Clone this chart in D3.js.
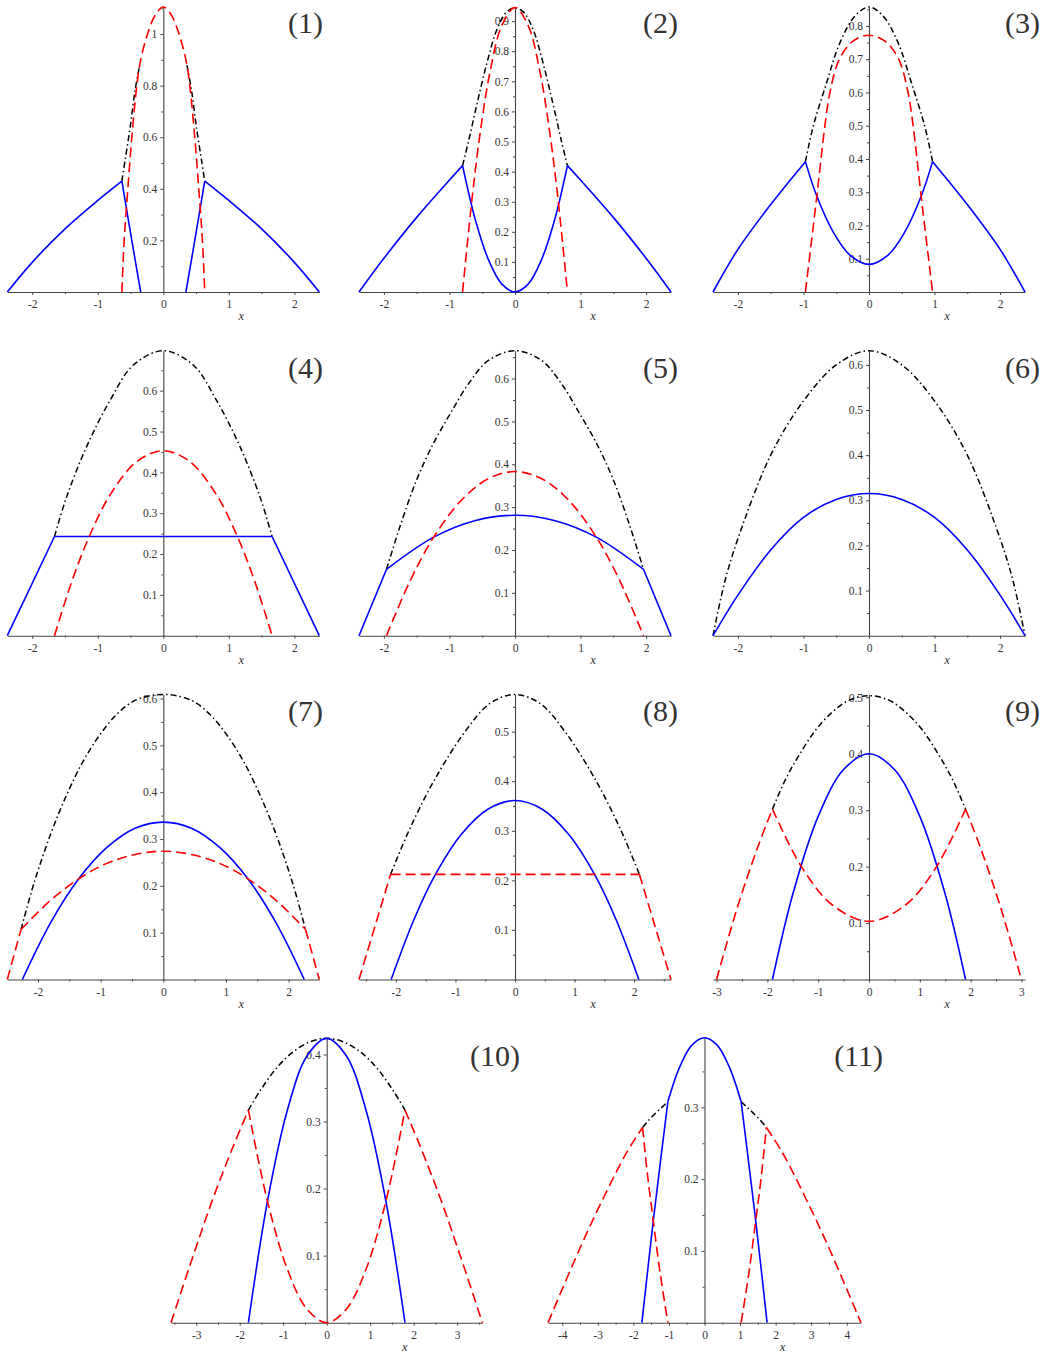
<!DOCTYPE html>
<html><head><meta charset="utf-8">
<script src="https://cdn.jsdelivr.net/npm/d3@7"></script>
<style>body{margin:0;background:#fff}svg{display:block}</style>
</head><body>
<script>
// ---------- data ----------
const panelLabels = ["(1)","(2)","(3)","(4)","(5)","(6)","(7)","(8)","(9)","(10)","(11)"];
const xLimits = [2.38,2.38,2.38,2.38,2.38,2.38,2.49,2.62,3.07,3.58,4.4];
const yLimits = [1.105,0.947,0.857,0.698,0.665,0.6315,0.6086,0.575,0.505,0.425,0.397];
const xTickLabels = [
  [-2,-1,0,1,2],[-2,-1,0,1,2],[-2,-1,0,1,2],[-2,-1,0,1,2],[-2,-1,0,1,2],[-2,-1,0,1,2],
  [-2,-1,0,1,2],[-2,-1,0,1,2],[-3,-2,-1,0,1,2,3],[-3,-2,-1,0,1,2,3],[-4,-3,-2,-1,0,1,2,3,4]
];
const yTickLabels = [
  [0.2,0.4,0.6,0.8,1],
  [0.1,0.2,0.3,0.4,0.5,0.6,0.7,0.8,0.9],
  [0.1,0.2,0.3,0.4,0.5,0.6,0.7,0.8],
  [0.1,0.2,0.3,0.4,0.5,0.6],
  [0.1,0.2,0.3,0.4,0.5,0.6],
  [0.1,0.2,0.3,0.4,0.5,0.6],
  [0.1,0.2,0.3,0.4,0.5,0.6],
  [0.1,0.2,0.3,0.4,0.5],
  [0.1,0.2,0.3,0.4,0.5],
  [0.1,0.2,0.3,0.4],
  [0.1,0.2,0.3]
];
const yMinorStep = [0.1,0.05,0.05,0.05,0.05,0.05,0.05,0.05,0.05,0.05,0.05];

// blue (solid), red (dashed), black (dash-dot) curve segments, [x, y] pairs
const blue1 = [
  [[-2.38,0],[-2,0.115],[-1.5,0.245],[-1,0.355],[-0.632,0.43]],
  [[-0.632,0.43],[-0.55,0.305],[-0.45,0.155],[-0.345,0]],
  [[0.345,0],[0.45,0.155],[0.55,0.305],[0.632,0.43]],
  [[0.632,0.43],[1,0.355],[1.5,0.245],[2,0.115],[2.38,0]]
];
const red1 = [
  [[-0.632,0],[-0.597,0.2],[-0.541,0.4],[-0.48,0.6],[-0.404,0.8],[-0.345,0.9],[-0.24,1.0],[-0.12,1.075],[0,1.105],[0.12,1.075],[0.24,1.0],[0.345,0.9],[0.404,0.8],[0.48,0.6],[0.541,0.4],[0.597,0.2],[0.632,0]]
];
const black1 = [
  [[-0.632,0.43],[-0.582,0.512],[-0.505,0.64],[-0.43,0.783],[-0.36,0.88]],
  [[0.36,0.88],[0.43,0.783],[0.505,0.64],[0.582,0.512],[0.632,0.43]]
];

const blue2 = [
  [[-2.38,0],[-2,0.112],[-1.5,0.248],[-1,0.372],[-0.8,0.42]],
  [[-0.8,0.42],[-0.6,0.236],[-0.4,0.105],[-0.2,0.026],[0,0],[0.2,0.026],[0.4,0.105],[0.6,0.236],[0.8,0.42]],
  [[0.8,0.42],[1,0.372],[1.5,0.248],[2,0.112],[2.38,0]]
];
const red2 = [
  [[-0.8,0],[-0.647,0.327],[-0.52,0.546],[-0.382,0.73],[-0.2,0.886],[0,0.945],[0.2,0.886],[0.382,0.73],[0.52,0.546],[0.647,0.327],[0.8,0]]
];
const black2 = [
  [[-0.8,0.42],[-0.71,0.5],[-0.585,0.62],[-0.433,0.757],[-0.28,0.87],[-0.13,0.93],[0,0.945],[0.13,0.93],[0.28,0.87],[0.433,0.757],[0.585,0.62],[0.71,0.5],[0.8,0.42]]
];

const blue3 = [
  [[-2.38,0],[-2,0.128],[-1.5,0.263],[-0.97,0.392]],
  [[-0.97,0.392],[-0.8,0.29],[-0.545,0.18],[-0.29,0.111],[0,0.083],[0.29,0.111],[0.545,0.18],[0.8,0.29],[0.97,0.392]],
  [[0.97,0.392],[1.5,0.263],[2,0.128],[2.38,0]]
];
const red3 = [
  [[-0.97,0],[-0.79,0.298],[-0.673,0.5],[-0.596,0.6],[-0.453,0.7],[-0.24,0.755],[0,0.772],[0.24,0.755],[0.453,0.7],[0.596,0.6],[0.673,0.5],[0.79,0.298],[0.97,0]]
];
const black3 = [
  [[-0.97,0.392],[-0.85,0.499],[-0.647,0.629],[-0.443,0.75],[-0.214,0.83],[0,0.857],[0.214,0.83],[0.443,0.75],[0.647,0.629],[0.85,0.499],[0.97,0.392]]
];

const blue4 = [
  [[-2.38,0],[-1.66,0.243]],
  [[-1.66,0.243],[1.66,0.243]],
  [[1.66,0.243],[2.38,0]]
];
const red4 = [
  [[-1.66,0],[-1.4,0.131],[-1.13,0.243],[-0.8,0.348],[-0.4,0.427],[0,0.453],[0.4,0.427],[0.8,0.348],[1.13,0.243],[1.4,0.131],[1.66,0]]
];
const black4 = [
  [[-1.66,0.243],[-1.475,0.34],[-1.17,0.463],[-0.81,0.577],[-0.456,0.663],[0,0.698],[0.456,0.663],[0.81,0.577],[1.17,0.463],[1.475,0.34],[1.66,0.243]]
];

const blue5 = [
  [[-2.38,0],[-1.96,0.155]],
  [[-1.96,0.155],[-1.24,0.23],[-0.6,0.269],[0,0.281],[0.6,0.269],[1.24,0.23],[1.96,0.155]],
  [[1.96,0.155],[2.38,0]]
];
const red5 = [
  [[-1.96,0],[-1.6,0.128],[-1.24,0.23],[-0.8,0.319],[-0.4,0.367],[0,0.383],[0.4,0.367],[0.8,0.319],[1.24,0.23],[1.6,0.128],[1.96,0]]
];
const black5 = [
  [[-1.96,0.155],[-1.75,0.257],[-1.5,0.364],[-1.24,0.45],[-0.98,0.52],[-0.7,0.59],[-0.4,0.643],[0,0.665],[0.4,0.643],[0.7,0.59],[0.98,0.52],[1.24,0.45],[1.5,0.364],[1.75,0.257],[1.96,0.155]]
];

const blue6 = [
  [[-2.38,0],[-2,0.09],[-1.5,0.19],[-1,0.262],[-0.5,0.302],[0,0.315],[0.5,0.302],[1,0.262],[1.5,0.19],[2,0.09],[2.38,0]]
];
const red6 = [];
const black6 = [
  [[-2.38,0],[-2.2,0.12],[-2,0.215],[-1.5,0.4],[-1,0.52],[-0.5,0.6],[0,0.6315],[0.5,0.6],[1,0.52],[1.5,0.4],[2,0.215],[2.2,0.12],[2.38,0]]
];

const blue7 = [
  [[-2.25,0],[-1.8,0.121],[-1.35,0.215],[-0.9,0.282],[-0.45,0.323],[0,0.336],[0.45,0.323],[0.9,0.282],[1.35,0.215],[1.8,0.121],[2.25,0]]
];
const red7 = [
  [[-2.49,0],[-2.27,0.107]],
  [[-2.27,0.107],[-1.8,0.169],[-1.35,0.215],[-0.9,0.248],[-0.45,0.267],[0,0.274],[0.45,0.267],[0.9,0.248],[1.35,0.215],[1.8,0.169],[2.27,0.107]],
  [[2.27,0.107],[2.49,0]]
];
const black7 = [
  [[-2.27,0.107],[-2.07,0.203],[-1.8,0.31],[-1.54,0.395],[-1.28,0.466],[-1.01,0.523],[-0.745,0.566],[-0.48,0.594],[-0.21,0.606],[0,0.6086],[0.21,0.606],[0.48,0.594],[0.745,0.566],[1.01,0.523],[1.28,0.466],[1.54,0.395],[1.8,0.31],[2.07,0.203],[2.27,0.107]]
];

const blue8 = [
  [[-2.08,0],[-1.7,0.12],[-1.35,0.209],[-0.9,0.293],[-0.45,0.344],[0,0.361],[0.45,0.344],[0.9,0.293],[1.35,0.209],[1.7,0.12],[2.08,0]]
];
const red8 = [
  [[-2.62,0],[-2.09,0.212]],
  [[-2.09,0.212],[2.09,0.212]],
  [[2.09,0.212],[2.62,0]]
];
const black8 = [
  [[-2.09,0.212],[-1.79,0.298],[-1.37,0.399],[-0.84,0.5],[-0.42,0.557],[0,0.575],[0.42,0.557],[0.84,0.5],[1.37,0.399],[1.79,0.298],[2.09,0.212]]
];

const blue9 = [
  [[-1.9,0],[-1.5,0.151],[-1,0.289],[-0.5,0.372],[0,0.4],[0.5,0.372],[1,0.289],[1.5,0.151],[1.9,0]]
];
const red9 = [
  [[-3,0],[-2.6,0.125],[-2.2,0.232],[-1.9,0.302]],
  [[-1.9,0.302],[-1.33,0.2],[-0.72,0.132],[0,0.103],[0.72,0.132],[1.33,0.2],[1.9,0.302]],
  [[1.9,0.302],[2.2,0.232],[2.6,0.125],[3,0]]
];
const black9 = [
  [[-1.9,0.302],[-1.64,0.355],[-1.38,0.397],[-1.05,0.442],[-0.72,0.474],[-0.39,0.495],[0,0.503],[0.39,0.495],[0.72,0.474],[1.05,0.442],[1.38,0.397],[1.64,0.355],[1.9,0.302]]
];

const blue10 = [
  [[-1.8,0],[-1.365,0.18],[-0.9,0.318],[-0.45,0.398],[0,0.424],[0.45,0.398],[0.9,0.318],[1.365,0.18],[1.8,0]]
];
const red10 = [
  [[-3.58,0],[-3.07,0.1],[-2.61,0.186],[-2.15,0.263],[-1.8,0.317]],
  [[-1.8,0.317],[-1.365,0.182],[-0.9,0.079],[-0.45,0.02],[0,0],[0.45,0.02],[0.9,0.079],[1.365,0.182],[1.8,0.317]],
  [[1.8,0.317],[2.15,0.263],[2.61,0.186],[3.07,0.1],[3.58,0]]
];
const black10 = [
  [[-1.8,0.317],[-1.53,0.346],[-1.15,0.38],[-0.77,0.404],[-0.38,0.419],[0,0.424],[0.38,0.419],[0.77,0.404],[1.15,0.38],[1.53,0.346],[1.8,0.317]]
];

const blue11 = [
  [[-1.76,0],[-1.44,0.142],[-1.2,0.24],[-1.03,0.308]],
  [[-1.03,0.308],[-0.69,0.357],[-0.35,0.387],[0,0.397],[0.35,0.387],[0.69,0.357],[1.03,0.308]],
  [[1.03,0.308],[1.2,0.24],[1.44,0.142],[1.76,0]]
];
const red11 = [
  [[-4.4,0],[-3.5,0.104],[-2.85,0.173],[-2.19,0.237],[-1.74,0.272]],
  [[-1.74,0.272],[-1.6,0.205],[-1.44,0.142],[-1.25,0.07],[-1.03,0]],
  [[1.03,0],[1.25,0.07],[1.44,0.142],[1.6,0.205],[1.74,0.272]],
  [[1.74,0.272],[2.19,0.237],[2.85,0.173],[3.5,0.104],[4.4,0]]
];
const black11 = [
  [[-1.74,0.272],[-1.55,0.283],[-1.35,0.293],[-1.2,0.3],[-1.03,0.308]],
  [[1.03,0.308],[1.2,0.3],[1.35,0.293],[1.55,0.283],[1.74,0.272]]
];

const blueSeries  = [blue1,blue2,blue3,blue4,blue5,blue6,blue7,blue8,blue9,blue10,blue11];
const redSeries   = [red1,red2,red3,red4,red5,red6,red7,red8,red9,red10,red11];
const blackSeries = [black1,black2,black3,black4,black5,black6,black7,black8,black9,black10,black11];

// ---------- layout ----------
const W = 1045, H = 1355, PH = 285;
const colsTop = [[7.3,319.3],[359,671],[713,1025]];
const rowBase = [292,635.7,979.5,1322.7];
const frames = [];
for (let r = 0; r < 3; r++) for (let c = 0; c < 3; c++)
  frames.push({l: colsTop[c][0], r: colsTop[c][1], b: rowBase[r]});
frames.push({l:171, r:482.4, b:rowBase[3]});
frames.push({l:548, r:861, b:rowBase[3]});
const labelRight = [323,678,1040,323,678,1040,323,678,1040,520,883];
const labelDy = [26,27,26,28];

const svg = d3.select("body").append("svg").attr("width", W).attr("height", H);
const FONT = "'Liberation Serif','DejaVu Serif',serif";
const AX = "#444";

frames.forEach((f, i) => {
  const xs = d3.scaleLinear().domain([-xLimits[i], xLimits[i]]).range([f.l, f.r]);
  const ys = d3.scaleLinear().domain([0, yLimits[i]]).range([f.b, f.b - PH]);
  const g = svg.append("g");

  const xMinor = d3.range(-Math.floor(xLimits[i]*2)/2, xLimits[i], 0.5).filter(v => Math.abs(v - Math.round(v)) > 1e-6);
  const gxm = g.append("g").attr("transform", `translate(0,${f.b})`)
    .call(d3.axisBottom(xs).tickValues(xMinor).tickSize(2).tickSizeOuter(0).tickFormat(""));
  gxm.select(".domain").remove();
  gxm.selectAll("line").attr("stroke", AX);

  const gx = g.append("g").attr("transform", `translate(0,${f.b})`)
    .call(d3.axisBottom(xs).tickValues(xTickLabels[i]).tickSize(3).tickSizeOuter(0).tickPadding(5).tickFormat(d => String(d)));
  gx.select(".domain").attr("stroke", AX).attr("stroke-width", 1.1);
  gx.selectAll("line").attr("stroke", AX);
  gx.selectAll("text").attr("font-family", FONT).attr("font-size", 11.5).attr("fill", "#333");

  const ym = [];
  for (let v = yMinorStep[i]; v < yLimits[i] - 1e-9; v += yMinorStep[i]) {
    const vv = +v.toFixed(3);
    if (!yTickLabels[i].some(t => Math.abs(t - vv) < 1e-6)) ym.push(vv);
  }
  const gym = g.append("g").attr("transform", `translate(${xs(0)},0)`)
    .call(d3.axisLeft(ys).tickValues(ym).tickSize(2).tickSizeOuter(0).tickFormat(""));
  gym.select(".domain").remove();
  gym.selectAll("line").attr("stroke", AX);

  const gy = g.append("g").attr("transform", `translate(${xs(0)},0)`)
    .call(d3.axisLeft(ys).tickValues(yTickLabels[i]).tickSize(3).tickSizeOuter(0).tickPadding(3).tickFormat(d => String(d)));
  gy.select(".domain").attr("stroke", AX).attr("stroke-width", 1.1);
  gy.selectAll("line").attr("stroke", AX);
  gy.selectAll("text").attr("font-family", FONT).attr("font-size", 11.5).attr("fill", "#333");

  g.append("text").attr("x", xs(0) + 78).attr("y", f.b + 28)
    .attr("text-anchor", "middle").attr("font-family", FONT).attr("font-style", "italic")
    .attr("font-size", 12.5).attr("fill", "#333").text("x");

  const row = i < 9 ? Math.floor(i / 3) : 3;
  g.append("text").attr("x", labelRight[i]).attr("y", f.b - PH + labelDy[row])
    .attr("text-anchor", "end").attr("font-family", FONT).attr("font-size", 30)
    .attr("fill", "#333").text(panelLabels[i]);

  const line = d3.line().x(d => xs(d[0])).y(d => ys(d[1])).curve(d3.curveCatmullRom.alpha(0.5));

  g.append("g").selectAll("path").data(blackSeries[i]).join("path")
    .attr("d", line).attr("fill", "none").attr("stroke", "#000").attr("stroke-width", 1.5)
    .attr("stroke-dasharray", "6,3,1.5,3");
  g.append("g").selectAll("path").data(blueSeries[i]).join("path")
    .attr("d", line).attr("fill", "none").attr("stroke", "#0000ff").attr("stroke-width", 1.6);
  g.append("g").selectAll("path").data(redSeries[i]).join("path")
    .attr("d", line).attr("fill", "none").attr("stroke", "#ff0000").attr("stroke-width", 1.6)
    .attr("stroke-dasharray", "10,5");
});
</script>
</body></html>
